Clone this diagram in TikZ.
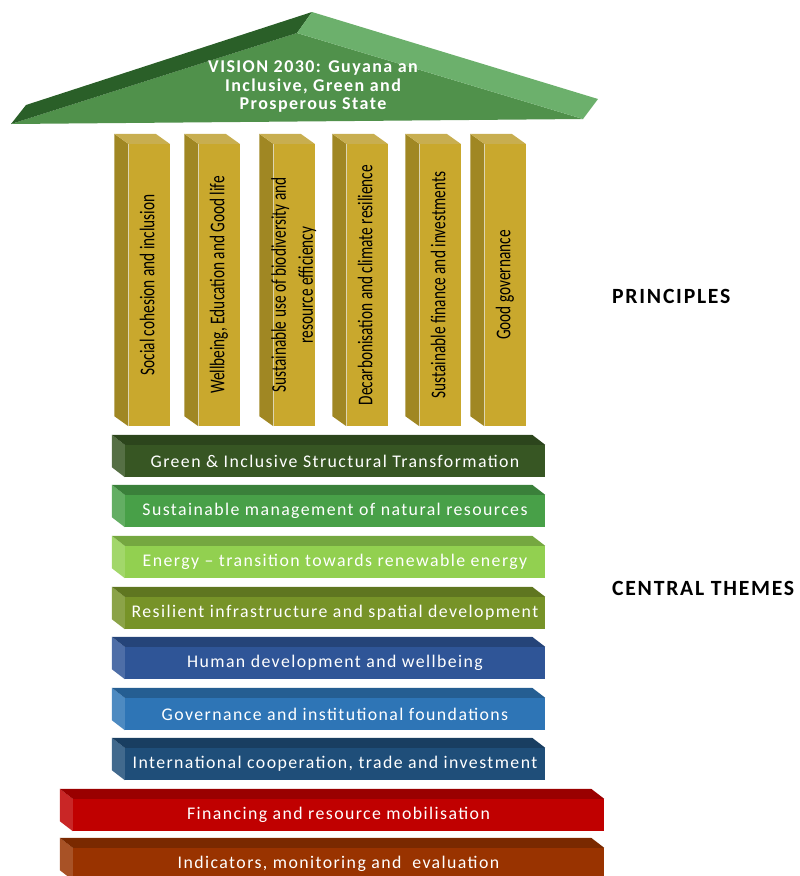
\documentclass[tikz,border=0pt]{standalone}
\usepackage{fontspec}
\setmainfont{Carlito}
\newfontfamily\spacedfont[LetterSpace=8]{Carlito}
\usepackage{graphicx}

\definecolor{roofFront}{RGB}{80,145,75}
\definecolor{roofDark}{RGB}{42,95,40}
\definecolor{roofLight}{RGB}{108,176,108}
\definecolor{pillarGold}{RGB}{201,168,45}
\definecolor{pillarSide}{RGB}{160,135,35}
\definecolor{pillarTop}{RGB}{200,174,80}
\definecolor{themeGreen}{RGB}{55,86,35}
\definecolor{themeNatural}{RGB}{72,160,72}
\definecolor{themeEnergy}{RGB}{146,208,80}
\definecolor{themeOlive}{RGB}{119,147,40}
\definecolor{themeHuman}{RGB}{47,85,151}
\definecolor{themeGov}{RGB}{46,117,182}
\definecolor{themeIntl}{RGB}{31,78,121}
\definecolor{baseRed}{RGB}{192,0,0}
\definecolor{baseBrown}{RGB}{153,51,0}

\providecommand*{\depthX}{}
\providecommand*{\depthY}{}
\providecommand*{\pillarSqueeze}{}
\renewcommand*{\depthX}{-13}
\renewcommand*{\depthY}{-10}
\renewcommand*{\pillarSqueeze}{0.73}
\newcommand*{\pillarLabel}[1]{\rotatebox{90}{\scalebox{\pillarSqueeze}[1]{\begin{tabular}{@{}c@{}}#1\end{tabular}}}}

\begin{document}
\begin{tikzpicture}[x=1pt,y=-1pt,
  pillar/.style={fill=pillarGold,minimum width=41pt,minimum height=282pt,inner sep=0pt},
  pillartext/.style={inner sep=0pt,font=\fontsize{21}{27}\selectfont},
  slab/.style={minimum height=32pt,inner sep=0pt,text=white,font=\spacedfont\fontsize{17.8}{20}\selectfont},
  sidelabel/.style={anchor=west,inner sep=0pt,font=\spacedfont\bfseries\fontsize{21.7}{24}\selectfont}]
  \useasboundingbox (0,0) rectangle (800,876);

  % roof
  \coordinate (eaveL) at (11,124);
  \coordinate (eaveR) at (583,119);
  \coordinate (ridge) at (312,12);
  \coordinate (ridgeIn) at (297,33);
  \fill [roofFront] (eaveL) -- (ridgeIn) -- (eaveR) -- cycle;
  \fill [roofDark] (eaveL) -- (26,105) -- (ridge) -- (ridgeIn) -- cycle;
  \fill [roofLight] (ridgeIn) -- (ridge) -- (598,99) -- (eaveR) -- cycle;
  \node [text=white,align=center,font=\spacedfont\bfseries\fontsize{18}{18.5}\selectfont] (vision) at (313,87)
    {VISION 2030: Guyana an\\Inclusive, Green and\\Prosperous State};

  % principles
  \foreach \x/\name/\txt in {149/social/{Social cohesion and inclusion},
      219/wellbeing/{Wellbeing, Education and Good life},
      294/biodiversity/{Sustainable use of biodiversity and\\resource efficiency},
      367/decarbon/{Decarbonisation and climate resilience},
      440/finance/{Sustainable finance and investments},
      505/governance/{Good governance}} {
    \node [pillar] (\name) at (\x,285) {};
    \fill [pillarSide] (\name.north west) -- ++(-14,-10) -- ([shift={(-14,-10)}]\name.south west)
      -- (\name.south west) -- cycle;
    \fill [pillarTop] (\name.north west) -- ++(-14,-10) -- ([shift={(-14,-10)}]\name.north east)
      -- (\name.north east) -- cycle;
    \node [pillartext] (\name-label) at (\name) {\pillarLabel{\txt}};
  }

  % central themes and base
  \foreach \x/\y/\w/\name/\col/\txt in {335/461/420/transform/themeGreen/{Green \& Inclusive Structural Transformation},
      335/511/420/natural/themeNatural/{Sustainable management of natural resources},
      335/562/420/energy/themeEnergy/{Energy – transition towards renewable energy},
      335/613/420/infra/themeOlive/{Resilient infrastructure and spatial development},
      335/663/420/human/themeHuman/{Human development and wellbeing},
      335/714/420/institutions/themeGov/{Governance and institutional foundations},
      335/764/420/trade/themeIntl/{International cooperation, trade and investment},
      338.5/815/531/financing/baseRed/{Financing and resource mobilisation},
      338.5/864/531/monitoring/baseBrown/{Indicators, monitoring and~ evaluation}} {
    \node [slab,minimum width=\w pt,fill=\col] (\name) at (\x,\y) {\txt};
    \fill [\col!85!white] (\name.north west) -- ++(\depthX,\depthY) -- ([shift={(\depthX,\depthY)}]\name.south west)
      -- (\name.south west) -- cycle;
    \fill [\col!80!black] (\name.north west) -- ++(\depthX,\depthY) -- ([shift={(\depthX,\depthY)}]\name.north east)
      -- (\name.north east) -- cycle;
  }

  \node [sidelabel] (principles) at (612,296) {PRINCIPLES};
  \node [sidelabel] (themes) at (612,588) {CENTRAL THEMES};
\end{tikzpicture}
\end{document}
